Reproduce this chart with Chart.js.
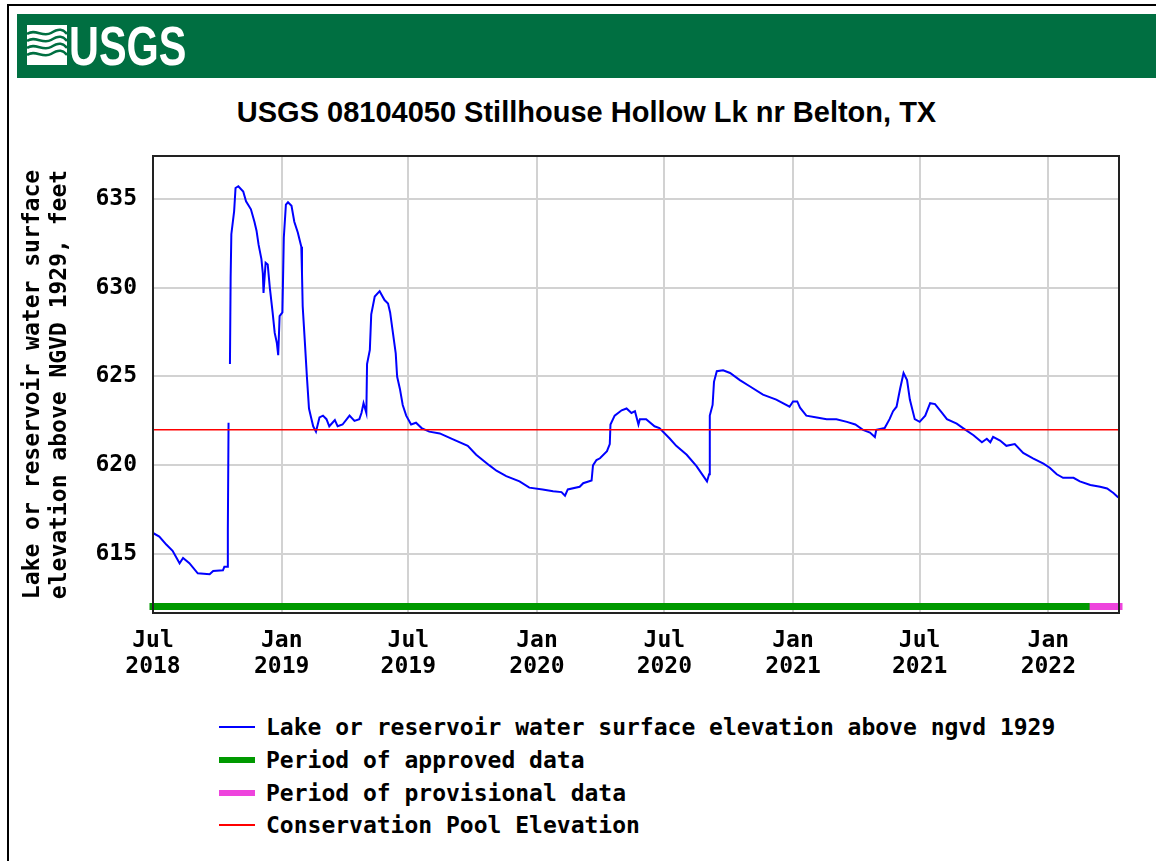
<!DOCTYPE html>
<html lang="en">
<head>
  <meta charset="UTF-8">
  <title>USGS 08104050 Stillhouse Hollow Lk nr Belton, TX</title>
  <script src="https://cdn.jsdelivr.net/npm/chart.js"></script>
  <style>
    body {
      margin: 0;
      width: 1156px;
      height: 861px;
      background: #fff;
      position: relative;
      overflow: hidden;
    }

    #frame {
      position: absolute;
      left: 7px;
      top: 4px;
      right: 0;
      bottom: 0;
      border-top: 2px solid #000;
      border-left: 2px solid #000;
    }

    #banner {
      position: absolute;
      left: 17px;
      top: 14px;
      width: 1139px;
      height: 64px;
      background: #006f41;
    }

    #wave {
      position: absolute;
      left: 10px;
      top: 11px;
    }

    #logo {
      position: absolute;
      left: 52px;
      top: 4px;
      color: #fff;
      font: bold 56px 'Liberation Sans', Arial, sans-serif;
      line-height: 1;
      transform: scaleX(0.74);
      transform-origin: left top;
    }

    #title {
      position: absolute;
      left: 0;
      width: 1173px;
      top: 98px;
      text-align: center;
      font: bold 29px 'Liberation Sans', Arial, sans-serif;
      line-height: 1;
      color: #000;
    }

    #chartBox {
      position: absolute;
      left: 0;
      top: 140px;
      width: 1156px;
      height: 560px;
    }

    #legend {
      position: absolute;
      left: 219px;
      top: 711px;
      font: bold 23px 'DejaVu Sans Mono', monospace;
      color: #000;
    }

    .row {
      display: flex;
      align-items: center;
      height: 32.7px;
      white-space: pre;
    }

    .swatch {
      width: 36px;
      margin-right: 11px;
    }
  </style>
</head>
<body>
  <div id="frame"></div>
  <div id="banner">
    <svg id="wave" width="40" height="40" viewBox="0 0 40 40">
      <rect x="0" y="0" width="40" height="40" fill="#fff"/>
      <path d="M0 9 C8 3, 16 13, 24 8 S36 4, 40 9" stroke="#006f41" stroke-width="2.5" fill="none"/>
      <path d="M0 16 C8 10, 16 20, 24 15 S36 11, 40 16" stroke="#006f41" stroke-width="2.5" fill="none"/>
      <path d="M0 23 C8 17, 16 27, 24 22 S36 18, 40 23" stroke="#006f41" stroke-width="2.5" fill="none"/>
      <path d="M0 30 C8 24, 16 34, 24 29 S36 25, 40 30" stroke="#006f41" stroke-width="2.5" fill="none"/>
    </svg>
    <span id="logo">USGS</span>
  </div>
  <div id="title">USGS 08104050 Stillhouse Hollow Lk nr Belton, TX</div>
  <div id="chartBox"><canvas id="lakeChart"></canvas></div>
  <div id="legend"></div>

  <script>
    // daily lake elevation (null = missing day)
    const elevDates = [
      '2018-07-01', '2018-07-10', '2018-07-20', '2018-07-29', '2018-08-08', '2018-08-13', '2018-08-22',
      '2018-09-03', '2018-09-20', '2018-09-25', '2018-10-09', '2018-10-11', '2018-10-15', '2018-10-16',
      '2018-10-17', '2018-10-18', '2018-10-19', '2018-10-20', '2018-10-21', '2018-10-25', '2018-10-27',
      '2018-10-31', '2018-11-07', '2018-11-11', '2018-11-18', '2018-11-23', '2018-11-26', '2018-11-29',
      '2018-12-03', '2018-12-05', '2018-12-06', '2018-12-09', '2018-12-12', '2018-12-15', '2018-12-19',
      '2018-12-22', '2018-12-25', '2018-12-27', '2018-12-29', '2019-01-02', '2019-01-04', '2019-01-07',
      '2019-01-10', '2019-01-15', '2019-01-19', '2019-01-24', '2019-01-29', '2019-01-30', '2019-01-31',
      '2019-02-03', '2019-02-06', '2019-02-09', '2019-02-12', '2019-02-15', '2019-02-19', '2019-02-24',
      '2019-03-01', '2019-03-06', '2019-03-10', '2019-03-18', '2019-03-22', '2019-03-29', '2019-04-08',
      '2019-04-15', '2019-04-22', '2019-04-25', '2019-04-28', '2019-05-02', '2019-05-03', '2019-05-07',
      '2019-05-09', '2019-05-14', '2019-05-21', '2019-05-28', '2019-06-02', '2019-06-05', '2019-06-09',
      '2019-06-13', '2019-06-15', '2019-06-19', '2019-06-23', '2019-06-28', '2019-07-05', '2019-07-12',
      '2019-07-20', '2019-07-31', '2019-08-15', '2019-09-03', '2019-09-24', '2019-10-06', '2019-10-25',
      '2019-11-04', '2019-11-18', '2019-12-07', '2019-12-21', '2020-01-09', '2020-01-24', '2020-02-05',
      '2020-02-10', '2020-02-14', '2020-03-02', '2020-03-07', '2020-03-19', '2020-03-21', '2020-03-26',
      '2020-03-31', '2020-04-10', '2020-04-14', '2020-04-15', '2020-04-21', '2020-05-01', '2020-05-08',
      '2020-05-15', '2020-05-20', '2020-05-25', '2020-05-27', '2020-06-05', '2020-06-17', '2020-06-24',
      '2020-07-09', '2020-07-18', '2020-08-02', '2020-08-16', '2020-08-31', '2020-09-03', '2020-09-04',
      '2020-09-08', '2020-09-10', '2020-09-14', '2020-09-23', '2020-10-03', '2020-10-17', '2020-10-31',
      '2020-11-19', '2020-12-08', '2020-12-27', '2021-01-01', '2021-01-07', '2021-01-11', '2021-01-20',
      '2021-02-04', '2021-02-18', '2021-03-04', '2021-03-19', '2021-03-31', '2021-04-11', '2021-04-21',
      '2021-04-28', '2021-04-30', '2021-05-12', '2021-05-19', '2021-05-24', '2021-05-29', '2021-06-03',
      '2021-06-08', '2021-06-13', '2021-06-17', '2021-06-24', '2021-07-01', '2021-07-09', '2021-07-16',
      '2021-07-23', '2021-08-02', '2021-08-09', '2021-08-23', '2021-09-01', '2021-09-16', '2021-09-28',
      '2021-10-05', '2021-10-10', '2021-10-14', '2021-10-24', '2021-11-02', '2021-11-14', '2021-11-26',
      '2021-12-10', '2021-12-25', '2022-01-03', '2022-01-13', '2022-01-22', '2022-02-06', '2022-02-15',
      '2022-03-02', '2022-03-16', '2022-03-26', '2022-04-04', '2022-04-11'
    ];
    const elevValues = [
      616.2, 616.0, 615.55, 615.2, 614.5, 614.8, 614.5,
      613.93, 613.88, 614.06, 614.1, 614.3, 614.3, 616.4,
      622.4, null, 625.7, 630.6, 633.0, 634.3, 635.6,
      635.7, 635.4, 634.85, 634.4, 633.7, 633.2, 632.4,
      631.6, 630.8, 629.7, 631.4, 631.3, 630.0, 628.6,
      627.45, 626.9, 626.2, 628.4, 628.6, 632.8, 634.66,
      634.8, 634.6, 633.7, 633.1, 632.3, 630.8, 628.95,
      627.0, 625.0, 623.2, 622.7, 622.2, 621.9, 622.7,
      622.8, 622.6, 622.2, 622.55, 622.2, 622.3, 622.8,
      622.5, 622.6, 622.95, 623.5, 622.95, 625.7, 626.5,
      628.5, 629.5, 629.8, 629.3, 629.1, 628.6, 627.45,
      626.3, 625.0, 624.3, 623.4, 622.8, 622.3, 622.4,
      622.1, 621.9, 621.8, 621.46, 621.1, 620.6, 620.0,
      619.7, 619.4, 619.1, 618.75, 618.65, 618.55, 618.5,
      618.3, 618.65, 618.8, 619.0, 619.15, 620.0, 620.3,
      620.4, 620.8, 621.2, 622.3, 622.8, 623.1, 623.2,
      622.95, 623.05, 622.3, 622.6, 622.6, 622.2, 622.1,
      621.5, 621.1, 620.6, 619.96, 619.1, 619.5, 622.8,
      623.4, 624.7, 625.3, 625.35, 625.2, 624.8, 624.45,
      623.98, 623.7, 623.3, 623.6, 623.6, 623.25, 622.8,
      622.7, 622.6, 622.6, 622.45, 622.3, 622.0, 621.85,
      621.6, 622.0, 622.1, 622.6, 623.05, 623.3, 624.3,
      625.2, 624.8, 623.7, 622.6, 622.45, 622.8, 623.5,
      623.45, 622.95, 622.6, 622.35, 622.1, 621.7, 621.3,
      621.5, 621.3, 621.6, 621.4, 621.1, 621.2, 620.7,
      620.4, 620.1, 619.87, 619.5, 619.3, 619.3, 619.1,
      618.9, 618.8, 618.7, 618.45, 618.2
    ];

    const poolElevation = 622.0;
    const approvedPeriod = ['2018-07-01', '2022-03-06'];
    const provisionalPeriod = ['2022-03-06', '2022-04-12'];

    const xRange = ['2018-07-01', '2022-04-12'];
    const yRange = [611.7, 637.4];
    const xTickDates = ['2018-07-01', '2019-01-01', '2019-07-01', '2020-01-01', '2020-07-01', '2021-01-01', '2021-07-01', '2022-01-01'];
    const xTickLabels = [['Jul', '2018'], ['Jan', '2019'], ['Jul', '2019'], ['Jan', '2020'], ['Jul', '2020'], ['Jan', '2021'], ['Jul', '2021'], ['Jan', '2022']];
    const yTicks = [615, 620, 625, 630, 635];

    const ts = d => Date.parse(d);
    const monoFont = { family: "'DejaVu Sans Mono', monospace", size: 23, weight: 'bold', lineHeight: 1.15 };
    const periodLevel = yRange[0] + 0.37;

    // plot frame on all four sides
    const framePlugin = {
      id: 'frame',
      afterDatasetsDraw(chart) {
        const { ctx, chartArea: a } = chart;
        ctx.save();
        ctx.strokeStyle = '#222';
        ctx.lineWidth = 2;
        ctx.strokeRect(a.left, a.top, a.right - a.left, a.bottom - a.top);
        ctx.restore();
      }
    };

    // axes have fixed sizes, no extra room for end labels
    const fixSize = (prop, size) => s => {
      s[prop] = size;
      s.paddingTop = 0;
      s.paddingBottom = 0;
      s.paddingLeft = 0;
      s.paddingRight = 0;
    };

    const chart = new Chart(document.getElementById('lakeChart'), {
      type: 'line',
      data: {
        datasets: [{
          label: 'Lake or reservoir water surface elevation above ngvd 1929',
          data: elevDates.map((d, i) => ({ x: ts(d), y: elevValues[i] })),
          borderColor: '#0000ff',
          borderWidth: 2,
          pointRadius: 0,
          tension: 0,
          order: 1
        }, {
          label: 'Period of approved data',
          data: approvedPeriod.map(d => ({ x: ts(d), y: periodLevel })),
          borderColor: '#009900',
          borderWidth: 7,
          borderCapStyle: 'square',
          pointRadius: 0,
          clip: false,
          order: 3
        }, {
          label: 'Period of provisional data',
          data: provisionalPeriod.map(d => ({ x: ts(d), y: periodLevel })),
          borderColor: '#ee44dd',
          borderWidth: 7,
          borderCapStyle: 'square',
          pointRadius: 0,
          clip: false,
          order: 2
        }, {
          label: 'Conservation Pool Elevation',
          data: xRange.map(d => ({ x: ts(d), y: poolElevation })),
          borderColor: '#ff0000',
          borderWidth: 1.5,
          pointRadius: 0,
          order: 0
        }]
      },
      options: {
        responsive: true,
        maintainAspectRatio: false,
        animation: false,
        layout: { padding: { top: 16, right: 37, left: 0, bottom: 0 } },
        plugins: {
          legend: { display: false },
          tooltip: { enabled: false }
        },
        scales: {
          x: {
            type: 'linear',
            min: ts(xRange[0]),
            max: ts(xRange[1]),
            afterBuildTicks: s => { s.ticks = xTickDates.map(d => ({ value: ts(d) })); },
            afterFit: fixSize('height', 87),
            grid: { color: 'rgb(210,210,210)', lineWidth: 2, drawTicks: false },
            border: { display: false },
            ticks: {
              autoSkip: false,
              maxRotation: 0,
              padding: 15,
              color: '#000',
              font: { ...monoFont, lineHeight: 26 / 23 },
              callback: (v, i) => xTickLabels[i]
            }
          },
          y: {
            min: yRange[0],
            max: yRange[1],
            afterBuildTicks: s => { s.ticks = yTicks.map(v => ({ value: v })); },
            afterFit: fixSize('width', 153),
            grid: { color: 'rgb(210,210,210)', lineWidth: 2, drawTicks: false },
            border: { display: false },
            ticks: { padding: 16, color: '#000', font: monoFont },
            title: {
              display: true,
              text: ['Lake or reservoir water surface', 'elevation above NGVD 1929, feet'],
              color: '#000',
              font: { ...monoFont, lineHeight: 27 / 23 },
              padding: { top: 20, bottom: 0 }
            }
          }
        }
      },
      plugins: [framePlugin]
    });

    // legend below the chart, one row per dataset
    const legendBox = document.getElementById('legend');
    chart.data.datasets.forEach(ds => {
      const row = document.createElement('div');
      row.className = 'row';
      const sw = document.createElement('div');
      sw.className = 'swatch';
      sw.style.height = Math.max(2, Math.min(ds.borderWidth, 6)) + 'px';
      sw.style.background = ds.borderColor;
      const txt = document.createElement('span');
      txt.textContent = ds.label;
      row.appendChild(sw);
      row.appendChild(txt);
      legendBox.appendChild(row);
    });
  </script>
</body>
</html>
